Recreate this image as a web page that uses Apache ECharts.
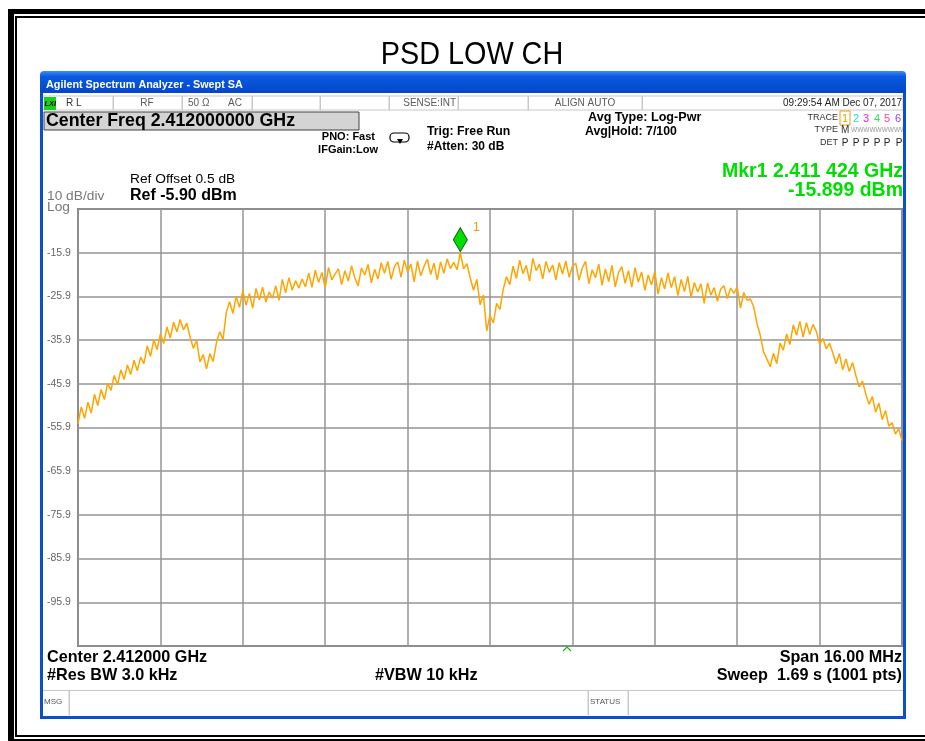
<!DOCTYPE html>
<html>
<head>
<meta charset="utf-8">
<title>PSD LOW CH</title>
<script src="https://cdn.jsdelivr.net/npm/echarts@6/dist/echarts.min.js"></script>
<style>
  html, body { margin: 0; padding: 0; background: #fff; }
  #chart { width: 925px; height: 741px; }
</style>
</head>
<body>
<div id="chart"></div>
<script>
// sweep: 2.404 - 2.420 GHz, trace sampled every 0.064 MHz (offset from start, MHz)
const spanMHz = 16;
const stepMHz = 0.064;
const yTicks = [-15.9, -25.9, -35.9, -45.9, -55.9, -65.9, -75.9, -85.9, -95.9];

// trace 1 (dBm)
const traceDbm = [
  -55.0, -51.2, -53.8, -50.1, -52.6, -48.3, -50.9, -47.2, -49.5, -45.8,
  -47.4, -44.0, -46.1, -42.7, -44.9, -41.6, -43.8, -40.5, -42.9, -39.8,
  -41.3, -37.2, -39.6, -35.8, -38.1, -34.5, -36.7, -32.9, -35.4, -31.8,
  -34.0, -31.2, -33.6, -32.0, -35.2, -37.8, -36.0, -40.9, -39.2, -42.5,
  -39.0, -40.8, -36.5, -34.0, -35.8, -29.5, -27.1, -29.8, -25.9, -28.4,
  -24.6, -27.9, -25.2, -28.6, -24.1, -26.7, -23.8, -27.2, -24.9, -26.3,
  -23.5, -26.8, -22.0, -25.1, -21.6, -24.5, -22.3, -24.0, -21.9, -23.7,
  -20.6, -23.8, -19.9, -22.7, -20.4, -23.9, -19.3, -22.1, -20.8, -19.6,
  -23.2, -20.0, -22.4, -18.9, -21.7, -23.5, -19.4, -21.0, -18.6, -22.8,
  -19.7, -21.9, -18.2, -20.6, -17.9, -22.0, -19.1, -18.0, -21.5, -17.6,
  -20.3, -18.5, -22.6, -17.8, -21.2, -19.0, -17.4, -20.9, -18.3, -22.1,
  -18.0, -20.6, -17.3, -19.5, -18.1, -19.8, -15.9, -19.6, -18.4, -21.7,
  -24.5, -22.0, -27.8, -25.6, -33.8, -30.2, -32.0, -27.5, -28.9, -24.3,
  -21.4, -23.2, -19.0, -21.8, -17.6, -20.7, -18.8, -22.4, -17.2, -20.0,
  -18.5, -21.9, -17.9, -20.4, -18.7, -22.1, -18.2, -20.8, -17.8, -21.5,
  -19.0, -18.3, -22.2, -19.4, -17.9, -23.0, -19.8, -21.6, -18.5, -23.4,
  -19.6, -22.5, -18.8, -23.7, -20.4, -19.1, -22.9, -20.0, -23.8, -19.3,
  -22.6, -20.3, -24.5, -21.0, -23.3, -20.2, -25.4, -21.6, -24.2, -20.5,
  -23.9, -21.4, -25.7, -22.0, -24.8, -21.3, -26.1, -22.7, -24.9, -23.0,
  -27.5, -22.8, -25.6, -23.9, -27.0, -24.2, -23.5, -26.4, -24.0, -25.2,
  -23.8, -28.6, -25.0, -26.8, -26.5, -28.3, -32.1, -34.8, -38.6, -40.2,
  -42.0, -38.9, -41.3, -36.6, -38.2, -34.5, -36.9, -32.4, -34.8, -31.6,
  -35.2, -31.9, -34.6, -32.3, -33.9, -36.8, -35.5, -37.9, -36.6, -38.8,
  -41.3, -39.0, -42.7, -40.2, -43.1, -41.0, -44.0, -46.6, -45.3, -48.2,
  -50.6, -48.8, -52.4, -50.3, -54.1, -52.0, -55.6, -54.8, -57.4, -56.2, -58.9
];

const marker = { offsetMHz: 7.424, dbm: -15.899 };

const chart = echarts.init(document.getElementById('chart'));

const grey = '#5a5a5a';
const ff = 'Liberation Sans, Arial, sans-serif';

function txt(x, y, s, o) {
  o = o || {};
  return {
    type: 'text', x: x, y: y, z: 10, silent: true,
    scaleX: o.scaleX || 1,
    style: {
      text: s,
      fill: o.color || '#000',
      font: (o.italic ? 'italic ' : '') + (o.bold ? 'bold ' : '') + (o.size || 11) + 'px ' + (o.family || ff),
      textAlign: o.align || 'left',
      textVerticalAlign: 'middle'
    }
  };
}
function box(x, y, w, h, fill, stroke, lw, z) {
  return {
    type: 'rect', silent: true, z: z || 1,
    shape: { x: x, y: y, width: w, height: h },
    style: { fill: fill || 'none', stroke: stroke || 'none', lineWidth: lw || 1 }
  };
}

const graphics = [
  // page frame
  box(8, 9, 917, 5, '#000'),
  box(8, 9, 6, 732, '#000'),
  box(16, 16, 909, 2, '#000'),
  box(15, 16, 2, 721, '#000'),
  box(15, 735, 910, 2, '#000'),
  box(8, 739, 917, 2, '#000'),
  txt(472, 55, 'PSD LOW CH', { size: 32, align: 'center', scaleX: 0.9 }),

  // analyzer window
  {
    type: 'rect', silent: true, z: 1,
    shape: { x: 40, y: 71, width: 866, height: 22, r: [4, 4, 0, 0] },
    style: {
      fill: new echarts.graphic.LinearGradient(0, 0, 0, 1, [
        { offset: 0, color: '#3b8cf6' }, { offset: 0.25, color: '#0a5ae0' },
        { offset: 1, color: '#0546c8' }
      ])
    }
  },
  box(40, 93, 3, 626, '#0a4fd0', null, 1, 20),
  box(903, 93, 3, 626, '#0a4fd0', null, 1, 20),
  box(40, 716, 866, 3, '#0a4fd0', null, 1, 20),
  txt(46, 85, 'Agilent Spectrum Analyzer - Swept SA', { color: '#fff', bold: true, size: 10.8 }),

  // status row
  box(43, 96, 860, 14, '#fff', '#c8c8c8'),
  box(44, 97, 12, 13, '#19d219'),
  txt(44.5, 103.5, 'LXI', { bold: true, italic: true, size: 7.5 }),
  box(113, 96, 0.5, 14, 'none', '#c8c8c8'),
  box(182, 96, 0.5, 14, 'none', '#c8c8c8'),
  box(252, 96, 0.5, 14, 'none', '#c8c8c8'),
  box(320, 96, 0.5, 14, 'none', '#c8c8c8'),
  box(389, 96, 0.5, 14, 'none', '#c8c8c8'),
  box(458, 96, 0.5, 14, 'none', '#c8c8c8'),
  box(528, 96, 0.5, 14, 'none', '#c8c8c8'),
  box(642, 96, 0.5, 14, 'none', '#c8c8c8'),
  txt(66, 103.5, 'R L', { size: 10, color: '#333' }),
  txt(147, 103.5, 'RF', { size: 10, color: grey, align: 'center' }),
  txt(188, 103.5, '50 Ω', { size: 10, color: grey }),
  txt(228, 103.5, 'AC', { size: 10, color: grey }),
  txt(456, 103.5, 'SENSE:INT', { size: 10, color: grey, align: 'right' }),
  txt(585, 103.5, 'ALIGN AUTO', { size: 10, color: grey, align: 'center' }),
  txt(902, 103.5, '09:29:54 AM Dec 07, 2017', { size: 10, color: '#222', align: 'right' }),

  // settings
  box(44, 112, 315, 18, '#d4d4d4', '#444'),
  txt(46, 121.5, 'Center Freq 2.412000000 GHz', { bold: true, size: 17.8 }),
  txt(375, 137, 'PNO: Fast', { bold: true, size: 11 }),
  txt(378, 150, 'IFGain:Low', { bold: true, size: 11, align: 'right' }),
  {
    type: 'rect', silent: true, z: 2,
    shape: { x: 390, y: 133, width: 19, height: 9, r: 4 },
    style: { fill: '#fff', stroke: '#000', lineWidth: 1.2 }
  },
  {
    type: 'polygon', silent: true, z: 3,
    shape: { points: [[397, 139], [403, 139], [400, 144]] },
    style: { fill: '#000' }
  },
  txt(427, 132, 'Trig: Free Run', { bold: true, size: 12.3 }),
  txt(427, 147, '#Atten: 30 dB', { bold: true, size: 12 }),
  txt(588, 118, 'Avg Type: Log-Pwr', { bold: true, size: 12.6 }),
  txt(585, 132, 'Avg|Hold: 7/100', { bold: true, size: 12.3 }),
  txt(838, 118, 'TRACE', { size: 9, color: '#333', align: 'right' }),
  txt(838, 130, 'TYPE', { size: 9, color: '#333', align: 'right' }),
  txt(838, 143, 'DET', { size: 9, color: '#333', align: 'right' }),
  box(840, 111, 10, 14, 'none', '#e8a000'),
  txt(845, 118.5, '1', { size: 11, color: '#f0a000', align: 'center' }),
  txt(856, 118.5, '2', { size: 11, color: '#20d8e8', align: 'center' }),
  txt(866, 118.5, '3', { size: 11, color: '#f020f0', align: 'center' }),
  txt(877, 118.5, '4', { size: 11, color: '#30e060', align: 'center' }),
  txt(887, 118.5, '5', { size: 11, color: '#ff4090', align: 'center' }),
  txt(898, 118.5, '6', { size: 11, color: '#9040ff', align: 'center' }),
  txt(841, 130.5, 'M', { size: 10, color: '#333' }),
  txt(851, 130.5, 'WWWWWWWWW', { size: 6.5, color: '#999' }),
  txt(845, 143.5, 'P', { size: 10, color: '#222', align: 'center' }),
  txt(856, 143.5, 'P', { size: 10, color: '#222', align: 'center' }),
  txt(866, 143.5, 'P', { size: 10, color: '#222', align: 'center' }),
  txt(877, 143.5, 'P', { size: 10, color: '#222', align: 'center' }),
  txt(887, 143.5, 'P', { size: 10, color: '#222', align: 'center' }),
  txt(899, 143.5, 'P', { size: 10, color: '#222', align: 'center' }),

  txt(130, 180, 'Ref Offset 0.5 dB', { size: 12.5, scaleX: 1.1 }),
  txt(130, 196, 'Ref -5.90 dBm', { bold: true, size: 16 }),
  txt(47, 197, '10 dB/div', { size: 12.5, color: '#777', scaleX: 1.1 }),
  txt(47, 208, 'Log', { size: 12.5, color: '#777', scaleX: 1.1 }),
  txt(903, 172, 'Mkr1 2.411 424 GHz', { bold: true, size: 19.5, color: '#00dd00', align: 'right' }),
  txt(903, 191, '-15.899 dBm', { bold: true, size: 19.5, color: '#00dd00', align: 'right' }),

  // bottom annotations
  txt(47, 658, 'Center 2.412000 GHz', { bold: true, size: 16.2 }),
  txt(47, 676, '#Res BW 3.0 kHz', { bold: true, size: 16.2 }),
  txt(375, 676, '#VBW 10 kHz', { bold: true, size: 16.2 }),
  txt(902, 658, 'Span 16.00 MHz', { bold: true, size: 16.2, align: 'right' }),
  txt(902, 676, 'Sweep  1.69 s (1001 pts)', { bold: true, size: 16.2, align: 'right' }),
  {
    type: 'polyline', silent: true, z: 5,
    shape: { points: [[563, 651], [567, 647], [571, 651]] },
    style: { stroke: '#00cc00', lineWidth: 1.2, fill: 'none' }
  },

  // message bar
  box(43, 690, 860, 1, '#c8c8c8'),
  box(69, 691, 0.5, 24, 'none', '#c8c8c8'),
  box(588, 691, 0.5, 24, 'none', '#c8c8c8'),
  box(628, 691, 0.5, 24, 'none', '#c8c8c8'),
  txt(44, 702, 'MSG', { size: 8, color: '#555' }),
  txt(590, 702, 'STATUS', { size: 8, color: '#555' })
];

// the PNO line is right-aligned like IFGain
graphics.forEach(g => {
  if (g.type === 'text' && g.style.text === 'PNO: Fast') g.style.textAlign = 'right';
});

const option = {
  animation: false,
  backgroundColor: '#fff',
  grid: {
    left: 78, top: 209, width: 824, height: 437,
    show: true, borderColor: '#7a7a7a', borderWidth: 2, backgroundColor: '#fff'
  },
  xAxis: {
    type: 'value', min: 0, max: spanMHz, interval: 1.6,
    axisLine: { show: false }, axisTick: { show: false }, axisLabel: { show: false },
    splitLine: { show: true, lineStyle: { color: '#949494', width: 1.5 } }
  },
  yAxis: {
    type: 'value', min: -105.9, max: -5.9, interval: 10,
    axisLine: { show: false }, axisTick: { show: false },
    axisLabel: {
      align: 'left', margin: 31, color: '#666', fontSize: 10.5, fontFamily: ff,
      formatter: function (v) {
        const s = v.toFixed(1);
        return yTicks.some(t => t.toFixed(1) === s) ? s : '';
      }
    },
    splitLine: { show: true, lineStyle: { color: '#949494', width: 1.5 } }
  },
  series: [{
    name: 'Trace 1',
    type: 'line',
    data: traceDbm.map((v, i) => [i * stepMHz, v]),
    showSymbol: false,
    lineStyle: { color: '#ffa500', width: 1.5 },
    z: 3,
    markPoint: {
      silent: true,
      data: [{
        coord: [marker.offsetMHz, marker.dbm],
        symbol: 'diamond',
        symbolSize: [14, 24],
        symbolOffset: [0, -13],
        itemStyle: { color: '#00e000', borderColor: '#1a5a1a', borderWidth: 1 },
        label: {
          show: true, formatter: '1', position: 'right', offset: [0, -12],
          color: '#f0a000', fontSize: 13, fontFamily: ff
        }
      }]
    }
  }],
  graphic: graphics
};

chart.setOption(option);
</script>
</body>
</html>
